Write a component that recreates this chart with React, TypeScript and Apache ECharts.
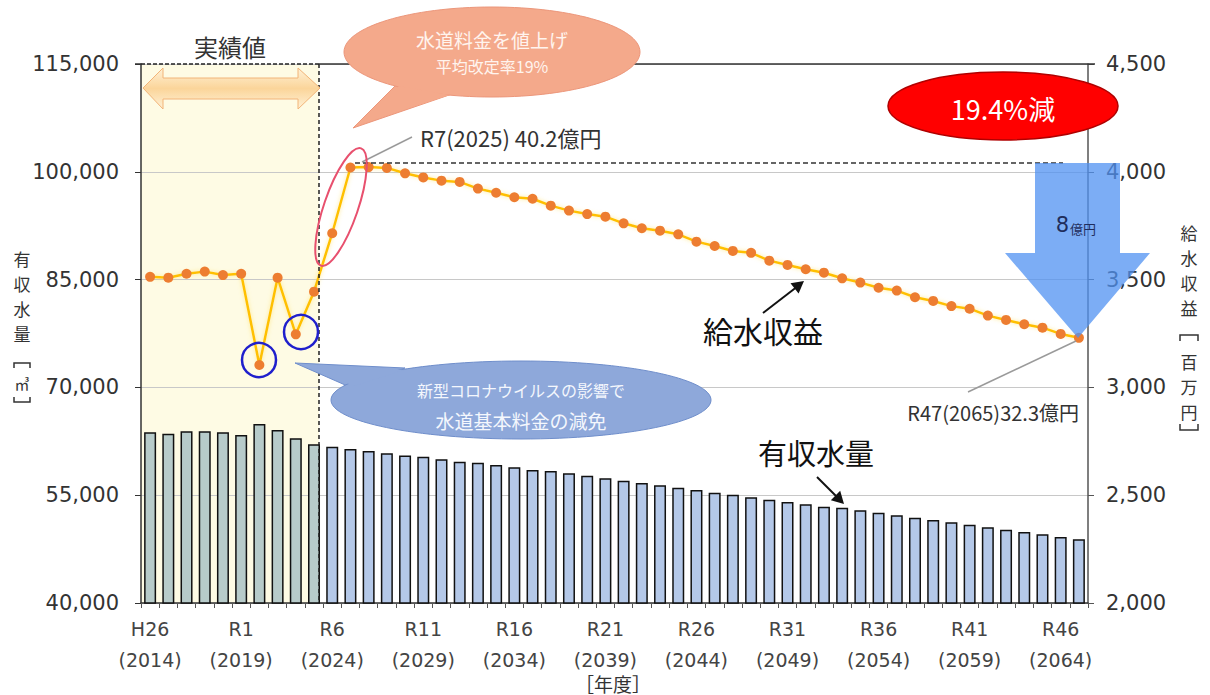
import React, { useEffect, useRef } from 'react';
import * as echarts from 'echarts';

// ---- data ----
const eraLabels = [
  'H26', 'H27', 'H28', 'H29', 'H30', 'R1', 'R2', 'R3', 'R4', 'R5',
  'R6', 'R7', 'R8', 'R9', 'R10', 'R11', 'R12', 'R13', 'R14', 'R15',
  'R16', 'R17', 'R18', 'R19', 'R20', 'R21', 'R22', 'R23', 'R24', 'R25',
  'R26', 'R27', 'R28', 'R29', 'R30', 'R31', 'R32', 'R33', 'R34', 'R35',
  'R36', 'R37', 'R38', 'R39', 'R40', 'R41', 'R42', 'R43', 'R44', 'R45',
  'R46', 'R47',
];
const fiscalYears = [
  2014, 2015, 2016, 2017, 2018, 2019, 2020, 2021, 2022, 2023,
  2024, 2025, 2026, 2027, 2028, 2029, 2030, 2031, 2032, 2033,
  2034, 2035, 2036, 2037, 2038, 2039, 2040, 2041, 2042, 2043,
  2044, 2045, 2046, 2047, 2048, 2049, 2050, 2051, 2052, 2053,
  2054, 2055, 2056, 2057, 2058, 2059, 2060, 2061, 2062, 2063,
  2064, 2065,
];
// 有収水量 [m3]
const waterVolume = [
  63750, 63560, 63890, 63890, 63750, 63380, 64900, 64070, 62920, 62080,
  61750, 61430, 61150, 60830, 60520, 60360, 60000, 59660, 59520, 59200,
  58880, 58510, 58370, 58050, 57710, 57350, 57020, 56700, 56380, 56040,
  55720, 55350, 55070, 54710, 54370, 54050, 53730, 53400, 53260, 52900,
  52570, 52200, 51870, 51550, 51230, 50900, 50530, 50200, 49880, 49560,
  49180, 48860,
];
// 給水収益 [百万円]
const waterRevenue = [
  3513, 3509, 3527, 3537, 3521, 3527, 3104, 3509, 3246, 3444,
  3715, 4020, 4022, 4018, 3993, 3974, 3959, 3953, 3922, 3903,
  3882, 3875, 3843, 3820, 3804, 3792, 3761, 3738, 3727, 3710,
  3676, 3656, 3633, 3624, 3588, 3568, 3548, 3532, 3506, 3486,
  3462, 3449, 3418, 3401, 3377, 3365, 3333, 3313, 3293, 3277,
  3248, 3230,
];
const actualYearCount = 10; // 実績値 H26〜R5

const CJK = '"Noto Sans CJK JP", "Noto Sans", sans-serif';
const NUM = '"DejaVu Sans", "Noto Sans", sans-serif';

const fmt = (v: number) => String(v).replace(/\B(?=(\d{3})+(?!\d))/g, ',');

function arrowHead(x1: number, y1: number, x2: number, y2: number, size: number, color: string) {
  const a = Math.atan2(y2 - y1, x2 - x1);
  const w = size * 0.55;
  const bx = x2 - size * Math.cos(a);
  const by = y2 - size * Math.sin(a);
  return {
    type: 'polygon',
    z: 120,
    shape: {
      points: [
        [x2, y2],
        [bx + w * Math.sin(a), by - w * Math.cos(a)],
        [bx - w * Math.sin(a), by + w * Math.cos(a)],
      ],
    },
    style: { fill: color },
  };
}

function verticalText(chars: string[], x: number, ys: number[], size: number) {
  return chars.map((c, i) => ({
    type: 'text', z: 100, x, y: ys[i],
    style: { text: c, font: `${size}px ${CJK}`, lineHeight: size, fill: '#333', align: 'center', verticalAlign: 'middle' },
  }));
}

export default function App() {
  const ref = useRef<HTMLDivElement>(null);

  useEffect(() => {
    if (!ref.current) return;
    const chart = echarts.init(ref.current, undefined, { renderer: 'svg' });
    const categories = eraLabels.map((e, i) => `${e}\n(${fiscalYears[i]})`);

    const graphic: any[] = [
      // 実績値 background
      { type: 'rect', z: -1, shape: { x: 141, y: 64, width: 178, height: 539 }, style: { fill: '#FEFBE4' } },
      // dashed boundary
      { type: 'line', z: 50, shape: { x1: 319, y1: 64, x2: 319, y2: 603 }, style: { stroke: '#222', lineWidth: 1.5, lineDash: [4, 3] } },
      { type: 'line', z: 50, shape: { x1: 141, y1: 64, x2: 319, y2: 64 }, style: { stroke: '#222', lineWidth: 1.5, lineDash: [4, 2] } },
      { type: 'line', z: 50, shape: { x1: 319, y1: 64, x2: 1095, y2: 64 }, style: { stroke: '#333', lineWidth: 1.5 } },
      { type: 'line', z: 50, shape: { x1: 135, y1: 64, x2: 141, y2: 64 }, style: { stroke: '#333', lineWidth: 1.5 } },
      // double arrow
      {
        type: 'polygon', z: 60,
        shape: { points: [[143, 88], [163, 68], [163, 78], [298, 78], [298, 68], [320, 88], [298, 109], [298, 99], [163, 99], [163, 109]] },
        style: {
          fill: new echarts.graphic.LinearGradient(0, 0, 0, 1, [
            { offset: 0, color: '#FFF1D6' },
            { offset: 0.5, color: '#FBD59A' },
            { offset: 1, color: '#FFF1D6' },
          ]),
          stroke: '#F2B478', lineWidth: 1,
        },
      },
      { type: 'text', z: 60, x: 230, y: 46, style: { text: '実績値', font: `24px ${CJK}`, fill: '#333', align: 'center', verticalAlign: 'middle' } },

      // salmon callout
      { type: 'polygon', z: 100, shape: { points: [[397, 84], [353, 128], [452, 94]] }, style: { fill: '#F4A98B', stroke: '#EC967A', lineWidth: 1 } },
      { type: 'ellipse', z: 101, shape: { cx: 492, cy: 52, rx: 148, ry: 45 }, style: { fill: '#F4A98B', stroke: '#EC967A', lineWidth: 1 } },
      { type: 'polygon', z: 102, shape: { points: [[399, 86], [356, 125], [450, 95]] }, style: { fill: '#F4A98B' } },
      { type: 'text', z: 103, x: 492, y: 39, style: { text: '水道料金を値上げ', font: `19px ${CJK}`, fill: '#FFF4EE', align: 'center', verticalAlign: 'middle' } },
      { type: 'text', z: 103, x: 492, y: 66, style: { text: '平均改定率19%', font: `16px ${CJK}`, fill: '#FFF4EE', align: 'center', verticalAlign: 'middle' } },

      // red ellipse
      { type: 'ellipse', z: 100, shape: { cx: 1003, cy: 106, rx: 115, ry: 34 }, style: { fill: '#FF0000', stroke: '#B00000', lineWidth: 1.5 } },
      { type: 'text', z: 101, x: 1003, y: 108, style: { text: '19.4%減', font: `27px ${CJK}`, fill: '#fff', align: 'center', verticalAlign: 'middle' } },

      // dashed reference line at R7 level
      { type: 'line', z: 50, shape: { x1: 355, y1: 163, x2: 1063, y2: 163 }, style: { stroke: '#333', lineWidth: 1.3, lineDash: [5, 3] } },
      // R7 label
      { type: 'line', z: 100, shape: { x1: 362, y1: 162, x2: 412, y2: 137 }, style: { stroke: '#9A9A9A', lineWidth: 1.5 } },
      { type: 'text', z: 100, x: 420, y: 137, style: { text: 'R7(2025) 40.2億円', font: `22px ${CJK}`, fill: '#333', align: 'left', verticalAlign: 'middle' } },

      // pink tilted ellipse
      { type: 'ellipse', z: 100, x: 341, y: 207, rotation: -0.33, shape: { cx: 0, cy: 0, rx: 17, ry: 62 }, style: { fill: 'none', stroke: '#E8506E', lineWidth: 2 } },

      // blue circles
      { type: 'circle', z: 100, shape: { cx: 259, cy: 360, r: 17 }, style: { fill: 'none', stroke: '#1F1FCC', lineWidth: 2.5 } },
      { type: 'circle', z: 100, shape: { cx: 301, cy: 332, r: 17 }, style: { fill: 'none', stroke: '#1F1FCC', lineWidth: 2.5 } },

      // blue callout
      { type: 'polygon', z: 100, shape: { points: [[352, 388], [295, 363], [405, 368]] }, style: { fill: '#8EA8DA', stroke: '#6F8ECB', lineWidth: 1 } },
      { type: 'ellipse', z: 101, shape: { cx: 521, cy: 400, rx: 190, ry: 39 }, style: { fill: '#8EA8DA', stroke: '#6F8ECB', lineWidth: 1 } },
      { type: 'polygon', z: 102, shape: { points: [[354, 386], [299, 364], [404, 370]] }, style: { fill: '#8EA8DA' } },
      { type: 'text', z: 103, x: 521, y: 390, style: { text: '新型コロナウイルスの影響で', font: `16px ${CJK}`, fill: '#F4F7FD', align: 'center', verticalAlign: 'middle' } },
      { type: 'text', z: 103, x: 521, y: 420, style: { text: '水道基本料金の減免', font: `19px ${CJK}`, fill: '#F4F7FD', align: 'center', verticalAlign: 'middle' } },

      // blue down arrow
      {
        type: 'polygon', z: 100,
        shape: { points: [[1035, 163], [1120, 163], [1120, 253], [1150, 253], [1078, 338], [1005, 253], [1035, 253]] },
        style: { fill: 'rgba(80,145,242,0.75)' },
      },
      { type: 'text', z: 101, x: 1069, y: 225, style: { text: '8', font: `21px ${NUM}`, fill: '#1F2D5C', align: 'right', verticalAlign: 'middle' } },
      { type: 'text', z: 101, x: 1070, y: 228, style: { text: '億円', font: `13px ${CJK}`, fill: '#1F2D5C', align: 'left', verticalAlign: 'middle' } },

      // 給水収益 label + arrow
      { type: 'text', z: 100, x: 763, y: 330, style: { text: '給水収益', font: `30px ${CJK}`, fill: '#111', align: 'center', verticalAlign: 'middle' } },
      { type: 'line', z: 110, shape: { x1: 763, y1: 313, x2: 798, y2: 286 }, style: { stroke: '#111', lineWidth: 2 } },
      arrowHead(763, 313, 804, 281, 12, '#111'),

      // 有収水量 label + arrow
      { type: 'text', z: 100, x: 816, y: 452, style: { text: '有収水量', font: `29px ${CJK}`, fill: '#111', align: 'center', verticalAlign: 'middle' } },
      { type: 'line', z: 110, shape: { x1: 817, y1: 477, x2: 839, y2: 499 }, style: { stroke: '#111', lineWidth: 2 } },
      arrowHead(817, 477, 844, 504, 12, '#111'),

      // R47 label
      { type: 'line', z: 100, shape: { x1: 1076, y1: 341, x2: 968, y2: 392 }, style: { stroke: '#9A9A9A', lineWidth: 1.5 } },
      { type: 'text', z: 100, x: 1079, y: 412, style: { text: 'R47(2065)32.3億円', font: `20px ${CJK}`, fill: '#333', align: 'right', verticalAlign: 'middle' } },

      // left axis name
      ...verticalText(['有', '収', '水', '量'], 22, [258, 283, 308, 333], 17),
      { type: 'polyline', z: 100, shape: { points: [[14, 368], [14, 363], [30, 363], [30, 368]] }, style: { stroke: '#333', lineWidth: 1.5, fill: 'none' } },
      { type: 'text', z: 100, x: 22, y: 383, style: { text: '㎥', font: `15px ${CJK}`, lineHeight: 15, fill: '#333', align: 'center', verticalAlign: 'middle' } },
      { type: 'polyline', z: 100, shape: { points: [[14, 397], [14, 402], [30, 402], [30, 397]] }, style: { stroke: '#333', lineWidth: 1.5, fill: 'none' } },

      // right axis name
      ...verticalText(['給', '水', '収', '益'], 1189, [232, 257, 282, 307], 17),
      { type: 'polyline', z: 100, shape: { points: [[1180, 341], [1180, 335], [1198, 335], [1198, 341]] }, style: { stroke: '#333', lineWidth: 1.5, fill: 'none' } },
      ...verticalText(['百', '万', '円'], 1189, [361, 386, 411], 17),
      { type: 'polyline', z: 100, shape: { points: [[1180, 424], [1180, 430], [1198, 430], [1198, 424]] }, style: { stroke: '#333', lineWidth: 1.5, fill: 'none' } },

      // x axis name
      { type: 'text', z: 100, x: 613, y: 683, style: { text: '［年度］', font: `19px ${CJK}`, fill: '#333', align: 'center', verticalAlign: 'middle' } },
    ];

    chart.setOption({
      animation: false,
      backgroundColor: '#ffffff',
      grid: { left: 141, right: 122, top: 64, bottom: 92, containLabel: false },
      xAxis: {
        type: 'category',
        data: categories,
        boundaryGap: true,
        axisLine: { show: true, lineStyle: { color: '#333', width: 1.5 } },
        axisTick: { show: true, interval: 0, length: 5, lineStyle: { color: '#555' } },
        axisLabel: { interval: 4, margin: 10, fontFamily: NUM, fontSize: 19, lineHeight: 31, color: '#444' },
        splitLine: { show: false },
      },
      yAxis: [
        {
          type: 'value', position: 'left', min: 40000, max: 115000, interval: 15000,
          axisLine: { show: true, lineStyle: { color: '#333', width: 1.5 } },
          axisTick: { show: true, length: 6, lineStyle: { color: '#333' } },
          axisLabel: { formatter: fmt, margin: 22, fontFamily: NUM, fontSize: 21, color: '#333' },
          splitLine: { show: true, lineStyle: { color: '#C8C8C8', width: 1 } },
        },
        {
          type: 'value', position: 'right', min: 2000, max: 4500, interval: 500,
          axisLine: { show: true, lineStyle: { color: '#555', width: 1.5 } },
          axisTick: { show: true, length: 6, lineStyle: { color: '#555' } },
          axisLabel: { formatter: fmt, margin: 18, fontFamily: NUM, fontSize: 21, color: '#333' },
          splitLine: { show: false },
        },
      ],
      series: [
        {
          name: '有収水量',
          type: 'bar',
          yAxisIndex: 0,
          barWidth: 12,
          data: waterVolume.map((v, i) => ({
            value: v,
            itemStyle: { color: i < actualYearCount ? '#B7CBCA' : '#B4C8E8' },
          })),
          itemStyle: { borderColor: '#111', borderWidth: 1.5 },
          z: 2,
        },
        {
          name: '給水収益',
          type: 'line',
          yAxisIndex: 1,
          data: waterRevenue,
          symbol: 'circle',
          symbolSize: 10,
          lineStyle: { color: '#FFC000', width: 2.5, shadowBlur: 4, shadowColor: 'rgba(255,220,80,0.6)' },
          itemStyle: { color: '#ED7D31' },
          z: 3,
        },
      ],
      graphic,
    });

    return () => chart.dispose();
  }, []);

  return <div ref={ref} style={{ position: 'fixed', left: 0, top: 0, width: 1210, height: 695, background: '#fff' }} />;
}
